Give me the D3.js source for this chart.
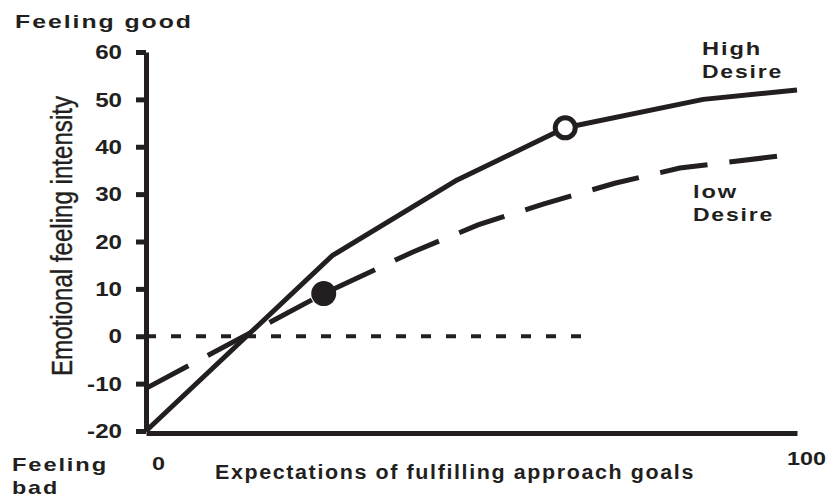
<!DOCTYPE html>
<html>
<head>
<meta charset="utf-8">
<script src="https://cdn.jsdelivr.net/npm/d3@7"></script>
<style>
  body { margin: 0; background: #fff; }
  svg { display: block; }
  text { font-family: "Liberation Sans", Arial, sans-serif; fill: #231f20; }
</style>
</head>
<body>
<svg id="mount" width="836" height="500"></svg>
<script>
var ink = "#231f20";

// values (x = expectation 0-100, y = feeling intensity)
var highX = [0, 28.6, 47.8, 64.4, 85.6, 100];
var highY = [-20, 17, 33, 44, 50, 52];
var lowX = [0, 27.3, 41, 51, 61, 72, 82, 100];
var lowY = [-11, 9, 17.8, 23.5, 27.9, 32.3, 35.5, 38.5];
var yTicks = [-20, -10, 0, 10, 20, 30, 40, 50, 60];
var xTicks = [0, 100];
var baselineX = [0, 68.4];
var openPoint = [64.4, 44];
var filledPoint = [27.3, 9];

function toPoints(xs, ys) {
  return xs.map(function(d, i) {
    return { x: d, y: ys[i] };
  });
}

// the original's lettering is a wide, spaced-out bold face: widen glyphs
function widen(sel, k) {
  sel.each(function() {
    var w = this.getComputedTextLength();
    d3.select(this)
      .attr("textLength", w * k)
      .attr("lengthAdjust", "spacingAndGlyphs");
  });
}

var svg = d3.select("#mount");

var x = d3
  .scaleLinear()
  .domain([0, 100])
  .range([146, 797]);

var y = d3
  .scaleLinear()
  .domain([-20, 60])
  .range([431, 52]);

var line = d3
  .line()
  .x(function(d) {
    return x(d.x);
  })
  .y(function(d) {
    return y(d.y);
  });

// y axis
var yAxis = svg
  .append("g")
  .attr("transform", "translate(" + x(0) + ",0)")
  .call(
    d3
      .axisLeft(y)
      .tickValues(yTicks)
      .tickFormat(String)
      .tickSize(10)
      .tickSizeOuter(0)
      .tickPadding(14)
  );
yAxis.select(".domain").attr("stroke", ink).attr("stroke-width", 5);
yAxis.selectAll(".tick line").attr("stroke", ink).attr("stroke-width", 5);
yAxis
  .selectAll(".tick text")
  .attr("font-family", null)
  .style("font-size", "21px")
  .style("font-weight", "bold")
  .call(widen, 1.15);

// x axis
var xAxis = svg
  .append("g")
  .attr("transform", "translate(0,433)")
  .call(
    d3
      .axisBottom(x)
      .tickValues(xTicks)
      .tickFormat(String)
      .tickSize(0)
      .tickSizeOuter(0)
      .tickPadding(24)
  );
xAxis.select(".domain").attr("stroke", ink).attr("stroke-width", 5);
xAxis
  .selectAll(".tick text")
  .attr("font-family", null)
  .attr("dx", function(d) {
    return d === 0 ? 12 : 9;
  })
  .attr("dy", function(d) {
    return d === 0 ? "0.71em" : "0.45em";
  })
  .style("font-size", "18px")
  .style("font-weight", "bold")
  .call(widen, 1.3);

// zero reference line
svg
  .append("path")
  .datum(toPoints(baselineX, [0, 0]))
  .attr("fill", "none")
  .attr("stroke", ink)
  .attr("stroke-width", 4)
  .attr("stroke-dasharray", "10,15")
  .attr("d", line);

// low desire (dashed)
svg
  .append("path")
  .datum(toPoints(lowX, lowY))
  .attr("fill", "none")
  .attr("stroke", ink)
  .attr("stroke-width", 5)
  .attr("stroke-dasharray", "48,22")
  .attr("d", line);

// high desire (solid)
svg
  .append("path")
  .datum(toPoints(highX, highY))
  .attr("fill", "none")
  .attr("stroke", ink)
  .attr("stroke-width", 5)
  .attr("stroke-linejoin", "round")
  .attr("d", line);

svg
  .append("circle")
  .attr("cx", x(filledPoint[0]))
  .attr("cy", y(filledPoint[1]))
  .attr("r", 12.5)
  .attr("fill", ink);

svg
  .append("circle")
  .attr("cx", x(openPoint[0]))
  .attr("cy", y(openPoint[1]))
  .attr("r", 10)
  .attr("fill", "#fff")
  .attr("stroke", ink)
  .attr("stroke-width", 5);

// labels
function label(txt, px, py, size, len) {
  return svg
    .append("text")
    .attr("x", px)
    .attr("y", py)
    .attr("textLength", len)
    .attr("lengthAdjust", "spacingAndGlyphs")
    .style("font-size", size + "px")
    .style("font-weight", "bold")
    .style("letter-spacing", "1.5px")
    .text(txt);
}

label("Feeling good", 15, 28, 19, 178);
label("Feeling", 12, 471, 19, 96);
label("bad", 12, 494, 19, 47);
label("Expectations of fulfilling approach goals", 215, 479, 20, 480);
label("High", 702, 55, 19, 60);
label("Desire", 702, 78, 19, 81);
label("low", 693, 198, 19, 45);
label("Desire", 693, 221, 19, 81);

svg
  .append("text")
  .attr("transform", "translate(72,236) rotate(-90)")
  .attr("text-anchor", "middle")
  .attr("textLength", 280)
  .attr("lengthAdjust", "spacingAndGlyphs")
  .style("font-family", "'Liberation Sans Narrow', 'Liberation Sans', sans-serif")
  .style("font-size", "30px")
  .style("stroke", ink)
  .style("stroke-width", 0.4)
  .text("Emotional feeling intensity");
</script>
</body>
</html>
